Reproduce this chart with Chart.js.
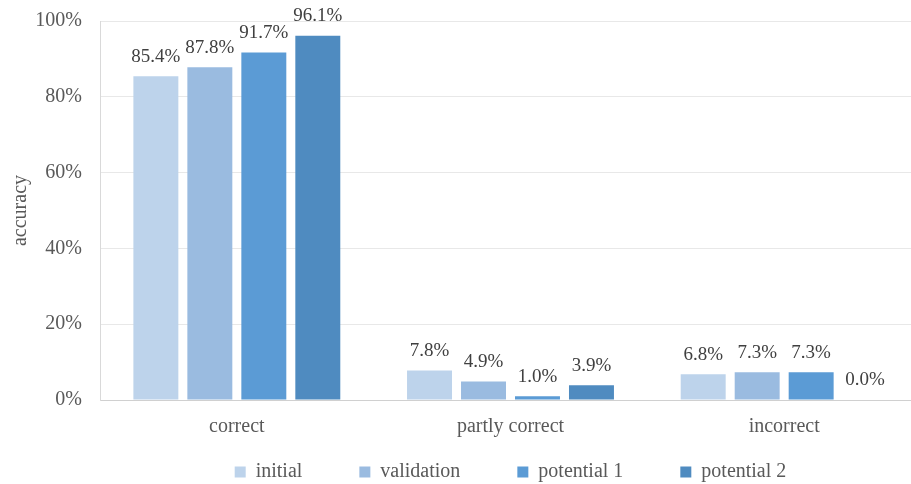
<!DOCTYPE html>
<html><head><meta charset="utf-8">
<script src="https://cdn.jsdelivr.net/npm/chart.js@4/dist/chart.umd.min.js"></script>
<style>
html,body{margin:0;padding:0;background:#fff;overflow:hidden;}
#wrap{position:relative;width:911px;height:484px;overflow:hidden;background:#fff;}
#c{position:absolute;left:0;top:0;}
</style></head><body>
<div id="wrap"><canvas id="c" width="922" height="484"></canvas></div>
<script>
const categories = ['correct', 'partly correct', 'incorrect'];
const seriesNames = ['initial', 'validation', 'potential 1', 'potential 2'];
const initialValues = [85.4, 7.8, 6.8];
const validationValues = [87.8, 4.9, 7.3];
const potential1Values = [91.7, 1.0, 7.3];
const potential2Values = [96.1, 3.9, 0.0];
const yTicks = [0, 20, 40, 60, 80, 100];
const yTitle = 'accuracy';

const seriesColors = ['#BDD3EB', '#9ABBE0', '#5B9BD5', '#4F8BC0'];
const seriesValues = [initialValues, validationValues, potential1Values, potential2Values];

Chart.defaults.font.family = '"Liberation Serif", "Times New Roman", serif';
Chart.defaults.color = '#595959';

const valueLabels = {
  id: 'valueLabels',
  afterDatasetsDraw(chart) {
    const ctx = chart.ctx;
    ctx.save();
    ctx.font = '19px "Liberation Serif"';
    ctx.fillStyle = '#404040';
    ctx.textAlign = 'center';
    ctx.textBaseline = 'middle';
    chart.data.datasets.forEach((ds, i) => {
      chart.getDatasetMeta(i).data.forEach((bar, j) => {
        ctx.fillText(ds.data[j].toFixed(1) + '%', bar.x, bar.y - 19.5);
      });
    });
    ctx.restore();
  }
};

const legendPlace = {
  id: 'legendPlace',
  afterLayout(chart) {
    const l = chart.legend;
    const ca = chart.chartArea;
    const shift = (ca.left + ca.right) / 2 - (l.left + l.right) / 2;
    l.left += shift; l.right += shift;
    const pad = chart.options.plugins.legend.labels.padding;
    const t = ca.bottom + 62 - pad;
    l.top = t; l.bottom = chart.height; l.height = l.bottom - l.top;
  }
};

new Chart(document.getElementById('c'), {
  type: 'bar',
  data: {
    labels: categories,
    datasets: seriesNames.map((name, i) => ({
      label: name,
      data: seriesValues[i],
      backgroundColor: seriesColors[i],
      borderWidth: 0,
      categoryPercentage: 0.789,
      barPercentage: 0.833
    }))
  },
  options: {
    responsive: false,
    animation: false,
    layout: { padding: { top: 21, right: 1, left: 0, bottom: 0 } },
    scales: {
      x: {
        grid: { display: false, drawTicks: false },
        border: { display: true, color: '#d0d0d0', width: 1 },
        ticks: { font: { size: 20 }, color: '#595959', padding: 15 },
        afterFit(s) { s.height = 44; }
      },
      y: {
        min: 0, max: 100,
        afterBuildTicks(s) { s.ticks = yTicks.map(v => ({ value: v })); },
        grid: { color: '#e8e8e8', drawTicks: false },
        border: { display: true, color: '#d9d9d9', width: 1 },
        ticks: { font: { size: 20 }, color: '#595959', padding: 18, callback: v => v + '%' },
        title: { display: true, text: yTitle, font: { size: 20 }, color: '#595959', padding: { top: 9, bottom: 0 } },
        afterFit(s) { s.width = 100; s.paddingTop = 0; s.paddingBottom = 0; }
      }
    },
    plugins: {
      tooltip: { enabled: false },
      legend: {
        position: 'bottom',
        maxHeight: 40,
        labels: { boxWidth: 11, boxHeight: 11, padding: 57, font: { size: 20 }, color: '#595959' }
      }
    }
  },
  plugins: [valueLabels, legendPlace]
});
</script>
</body></html>
